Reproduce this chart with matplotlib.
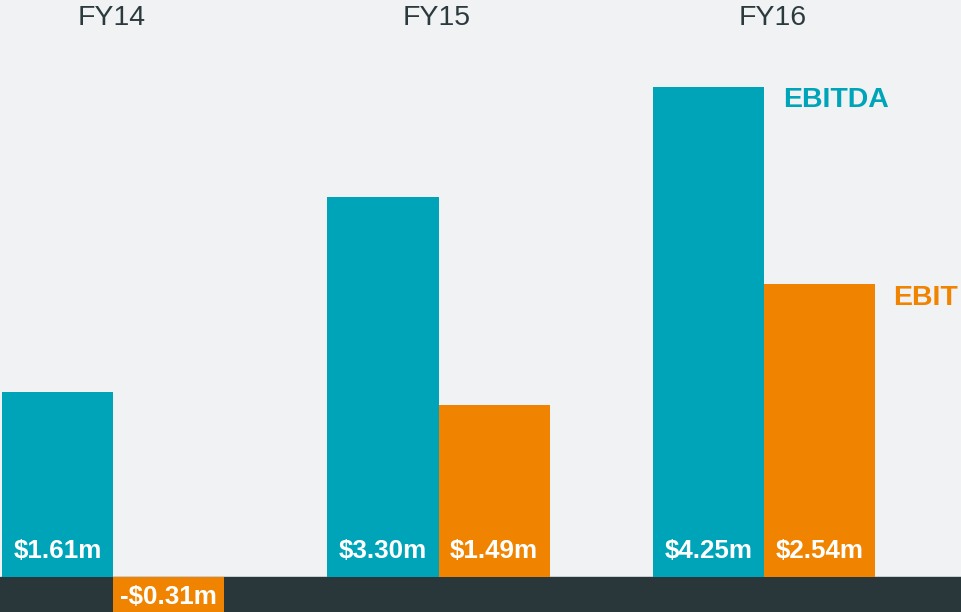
import matplotlib.pyplot as plt
import numpy as np

plt.rcParams['font.family'] = ['Liberation Sans', 'DejaVu Sans']

# data
years = ['FY14', 'FY15', 'FY16']
ebitda = [1.61, 3.30, 4.25]
ebit = [-0.31, 1.49, 2.54]
ebitda_labels = ['$1.61m', '$3.30m', '$4.25m']
ebit_labels = ['-$0.31m', '$1.49m', '$2.54m']

teal = '#00a4b9'
orange = '#f08300'
bg = '#f1f2f4'
dark = '#29373a'

fig = plt.figure(figsize=(9.61, 6.12), dpi=100, facecolor=bg)
ax = fig.add_axes([0, 0, 1, 1])
ax.set_facecolor(bg)

x = np.arange(len(years))
w = 0.341
# year headings sit slightly off the group centres
head_x = x + np.array([-0.003, -0.006, 0.026])

ax.set_xlim(-0.347, 2.605)
ax.set_ylim(-0.304, 5.009)

# dark floor under the baseline
ax.axhspan(-0.304, 0, color=dark, zorder=1)

ax.bar(x - w / 2, ebitda, w, color=teal, zorder=2)
ax.bar(x + w / 2, ebit, w, color=orange, zorder=2)

for i in range(len(years)):
    ax.text(head_x[i], 4.85, years[i], ha='center', va='center',
            fontsize=20.5, color='#2b3a3c')
    ax.text(x[i] - w / 2, 0.226, ebitda_labels[i], ha='center', va='center',
            fontsize=18.7, fontweight='bold', color='white', zorder=3)
    ly = 0.226 if ebit[i] > 0 else -0.17
    ax.text(x[i] + w / 2, ly, ebit_labels[i], ha='center', va='center',
            fontsize=18.7, fontweight='bold', color='white', zorder=3)

# series names beside the FY16 bars
ax.annotate('EBITDA', xy=(x[2], ebitda[2]), xytext=(13.5, -9),
            textcoords='offset points', ha='left', va='center',
            fontsize=20.5, fontweight='bold', color=teal)
ax.annotate('EBIT', xy=(x[2] + w, ebit[2]), xytext=(13, -10),
            textcoords='offset points', ha='left', va='center',
            fontsize=20.5, fontweight='bold', color=orange)

ax.axis('off')
fig.savefig('out.png', dpi=100, facecolor=bg)
